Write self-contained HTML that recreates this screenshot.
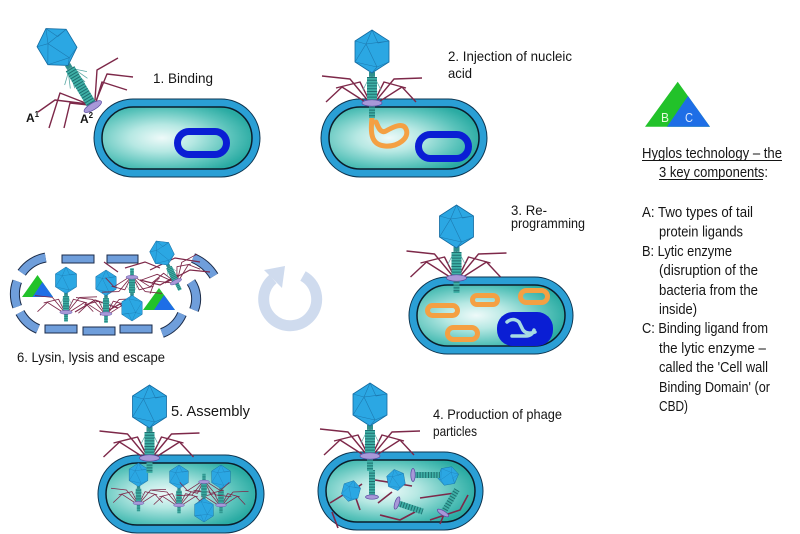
<!DOCTYPE html>
<html><head><meta charset="utf-8"><style>
html,body{margin:0;padding:0;background:#fff;}
svg{display:block;}
text{font-family:"Liberation Sans",sans-serif;fill:#151515;}
</style></head><body>
<svg width="800" height="534" viewBox="0 0 800 534" xmlns="http://www.w3.org/2000/svg" xmlns:xlink="http://www.w3.org/1999/xlink">
<defs>
 <radialGradient id="cy" cx=".4" cy=".5" r=".62">
  <stop offset="0" stop-color="#eefaf9"/>
  <stop offset=".35" stop-color="#b6e8e3"/>
  <stop offset=".75" stop-color="#5ac3bb"/>
  <stop offset="1" stop-color="#2aaba3"/>
 </radialGradient>
 <g id="head">
  <polygon points="0,0 17,11 17,32 0,43 -17,32 -17,11" fill="#2ba7e3" stroke="#136aa0" stroke-width=".8"/>
  <path d="M0,0 L-6,14 L17,11 M-17,11 L-6,14 L-17,32 M-6,14 L5,37 L17,32 M5,37 L0,43 M5,37 L-17,32 M0,0 L6,13 L17,11" fill="none" stroke="#1a6fa5" stroke-width=".6" opacity=".8"/>
 </g>
 <g id="fib" fill="none" stroke="#7d2849" stroke-width="1.4" stroke-linejoin="round">
  <path d="M-3,72 L-22,49 L-50,46"/>
  <path d="M-5,73 L-30,57 L-46,72"/>
  <path d="M-2,72 L-12,52 L-36,58"/>
  <path d="M3,72 L22,49 L50,48"/>
  <path d="M5,73 L30,57 L44,72"/>
  <path d="M2,72 L12,52 L34,58"/>
 </g>
 <g id="tail">
  <rect x="-3" y="42" width="6" height="6" fill="#2f8f8c"/>
  <path d="M-2,46 L-9,60 M2,46 L9,60 M-1,46 L-5,62 M1,46 L5,62" stroke="#5aa9a5" stroke-width=".7" fill="none"/>
  <rect x="-5" y="47" width="10" height="25" fill="#3fb0a6"/>
  <line x1="0" y1="47" x2="0" y2="72" stroke="#1e6f70" stroke-width="10" stroke-dasharray="1 1.8"/>
  <rect x="-3" y="74" width="6" height="14" fill="#3fb0a6"/>
  <line x1="0" y1="74" x2="0" y2="88" stroke="#1e6f70" stroke-width="6" stroke-dasharray="1 1.8"/>
  <ellipse cx="0" cy="73" rx="10" ry="3.2" fill="#a898d8" stroke="#5b4aa0" stroke-width=".7"/>
 </g>
 <g id="phage"><use href="#fib"/><use href="#tail"/><use href="#head"/></g>
 <g id="tp">
  <rect x="-3" y="1" width="6" height="26" fill="#3fb0a6"/>
  <line x1="0" y1="1" x2="0" y2="27" stroke="#1e6f70" stroke-width="6" stroke-dasharray="1 1.8"/>
  <ellipse cx="0" cy="0" rx="6.5" ry="2.2" fill="#a898d8" stroke="#5b4aa0" stroke-width=".7"/>
 </g>
</defs>

<!-- ===== Section 1 ===== -->
<rect x="94" y="99" width="166" height="78" rx="39" fill="#2a9fd5" stroke="#0d3550" stroke-width="1"/>
<rect x="102" y="107" width="150" height="62" rx="31" fill="url(#cy)" stroke="#0b1d2a" stroke-width="1.5"/>
<rect x="177.5" y="131.5" width="49" height="23" rx="11.5" fill="none" stroke="#0a1ed4" stroke-width="7"/>
<g fill="none" stroke="#7d2849" stroke-width="1.4" stroke-linejoin="round">
 <path d="M88,104 L60,93 L49,128"/>
 <path d="M89,105 L70,103 L64,128"/>
 <path d="M88,104 L55,100 L38,112"/>
 <path d="M95,100 L97,70 L118,58"/>
 <path d="M96,101 L107,74 L133,77"/>
 <path d="M96,102 L102,82 L127,90"/>
</g>
<g transform="translate(57,47) rotate(-31) translate(0,-21.5)">
 <rect x="-3" y="42" width="6" height="6" fill="#2f8f8c"/>
 <path d="M-2,46 L-10,64 M2,46 L10,64 M-1,46 L-6,66 M1,46 L6,66 M0,46 L-13,58 M0,46 L13,58" stroke="#5aa9a5" stroke-width=".8" fill="none"/>
 <rect x="-5" y="47" width="10" height="43" fill="#3fb0a6"/>
 <line x1="0" y1="47" x2="0" y2="90" stroke="#1e6f70" stroke-width="10" stroke-dasharray="1 1.8"/>
 <ellipse cx="0" cy="91" rx="10" ry="3.4" fill="#a898d8" stroke="#5b4aa0" stroke-width=".7"/>
 <use href="#head"/>
</g>
<text x="26" y="122" font-size="12" font-weight="bold">A<tspan dy="-5" font-size="8">1</tspan></text>
<text x="80" y="123" font-size="12" font-weight="bold">A<tspan dy="-5" font-size="8">2</tspan></text>
<text x="153" y="83" font-size="14" textLength="60" lengthAdjust="spacingAndGlyphs">1.  Binding</text>

<!-- ===== Section 2 ===== -->
<rect x="321" y="99" width="166" height="78" rx="39" fill="#2a9fd5" stroke="#0d3550" stroke-width="1"/>
<rect x="329" y="107" width="150" height="62" rx="31" fill="url(#cy)" stroke="#0b1d2a" stroke-width="1.5"/>
<rect x="418.5" y="134.5" width="50" height="24" rx="12" fill="none" stroke="#0a1ed4" stroke-width="7"/>
<path d="M372,118 C370,135 372,145 385,146 C398,147 410,138 406,129 C403,122 393,127 386,131 C380,134 378,126 376,122" fill="none" stroke="#f4a043" stroke-width="5" stroke-linecap="round"/>
<use href="#phage" transform="translate(372,30)"/>
<text x="448" y="61" font-size="14" textLength="124" lengthAdjust="spacingAndGlyphs">2. Injection of nucleic</text>
<text x="448" y="78" font-size="14" textLength="24" lengthAdjust="spacingAndGlyphs">acid</text>

<!-- ===== Section 3 ===== -->
<rect x="409" y="277" width="164" height="77" rx="38.5" fill="#2a9fd5" stroke="#0d3550" stroke-width="1"/>
<rect x="417" y="285" width="148" height="61" rx="30.5" fill="url(#cy)" stroke="#0b1d2a" stroke-width="1.5"/>
<g fill="none" stroke="#f4a043" stroke-width="5">
 <rect x="427.5" y="305.5" width="30" height="10" rx="5"/>
 <rect x="472.5" y="295.5" width="25" height="9" rx="4.5"/>
 <rect x="520.5" y="290.5" width="27" height="12" rx="6"/>
 <rect x="447.5" y="327.5" width="30" height="12" rx="6"/>
</g>
<rect x="497" y="312" width="56" height="34" rx="16" fill="#0a1ed4"/>
<path d="M507,322 q6,-5 12,0 l4,8 q4,5 12,2 M512,336 h14 q6,0 8,-6" fill="none" stroke="#a7dbe3" stroke-width="3.5" stroke-linecap="round"/>
<use href="#phage" transform="translate(456.5,205)"/>
<text x="511" y="215" font-size="14" textLength="36" lengthAdjust="spacingAndGlyphs">3. Re-</text>
<text x="511" y="228" font-size="14" textLength="74" lengthAdjust="spacingAndGlyphs">programming</text>

<!-- ===== Circular arrow ===== -->
<path d="M273,279 A26.5,26.5 0 1 0 303,276" fill="none" stroke="#cfdbee" stroke-width="11"/>
<polygon points="264,270 285,266 282,288" fill="#cfdbee"/>

<!-- ===== Section 6 ===== -->
<g fill="none" stroke-width="10" stroke="#1b2b48">
 <path d="M45.6,257.6 A37,37 0 0 0 21.7,272.8"/>
 <path d="M17.2,281.3 A37,37 0 0 0 17.2,306.7"/>
 <path d="M20,312.5 A37,37 0 0 0 38,329"/>
 <path d="M193,258 A45,45 0 0 1 214,276"/>
 <path d="M191,282 A30,30 0 0 1 194,310"/>
 <path d="M182,314 A35,35 0 0 1 162,333"/>
</g>
<g fill="none" stroke-width="8" stroke="#6f9edb">
 <path d="M45.6,257.6 A37,37 0 0 0 21.7,272.8"/>
 <path d="M17.2,281.3 A37,37 0 0 0 17.2,306.7"/>
 <path d="M20,312.5 A37,37 0 0 0 38,329"/>
 <path d="M193,258 A45,45 0 0 1 214,276"/>
 <path d="M191,282 A30,30 0 0 1 194,310"/>
 <path d="M182,314 A35,35 0 0 1 162,333"/>
</g>
<g fill="#6f9edb" stroke="#1b2b48" stroke-width="1">
 <rect x="62" y="255" width="32" height="8"/>
 <rect x="107" y="255" width="31" height="8"/>
 <rect x="45" y="325" width="32" height="8"/>
 <rect x="83" y="327" width="32" height="8"/>
 <rect x="120" y="325" width="32" height="8"/>
</g>
<polygon points="37.5,275 22,297 53,297" fill="#22c22a"/>
<polygon points="42.4,282 32.5,297 53,297" fill="#1e6ee6"/>
<polygon points="159,288 143,310 175,310" fill="#22c22a"/>
<polygon points="164,295 154,310 175,310" fill="#1e6ee6"/>
<g fill="none" stroke="#7d2849" stroke-width="1.2">
 <path d="M118,272 L104,262"/>
 <path d="M125,268 L145,262 L160,268"/>
 <path d="M140,280 L160,285 L178,275"/>
 <path d="M150,270 L175,258 L200,262"/>
 <path d="M165,283 L190,270 L210,272"/>
 <path d="M75,312 L95,300 L118,308"/>
 <path d="M100,315 L120,304 L135,318"/>
</g>
<use href="#phage" transform="translate(66,267) scale(.62)"/>
<use href="#phage" transform="translate(106,270) scale(.6)"/>
<use href="#phage" transform="translate(132,321) rotate(180) scale(.6)"/>
<use href="#phage" transform="translate(162,253) rotate(-26) scale(.62) translate(0,-21.5)"/>
<text x="17" y="362" font-size="14" textLength="148" lengthAdjust="spacingAndGlyphs">6.  Lysin, lysis and escape</text>

<!-- ===== Section 5 ===== -->
<rect x="98" y="455" width="166" height="78" rx="39" fill="#2a9fd5" stroke="#0d3550" stroke-width="1"/>
<rect x="106" y="463" width="150" height="62" rx="31" fill="url(#cy)" stroke="#0b1d2a" stroke-width="1.5"/>
<use href="#phage" transform="translate(138.5,463) scale(.55)"/>
<use href="#phage" transform="translate(179,465) scale(.55)"/>
<use href="#phage" transform="translate(221,465) scale(.55)"/>
<use href="#phage" transform="translate(204,522) rotate(180) scale(.55)"/>
<use href="#phage" transform="translate(149.5,385)"/>
<text x="171" y="416" font-size="15" textLength="79" lengthAdjust="spacingAndGlyphs">5.  Assembly</text>

<!-- ===== Section 4 ===== -->
<rect x="318" y="452" width="165" height="78" rx="39" fill="#2a9fd5" stroke="#0d3550" stroke-width="1"/>
<rect x="326" y="460" width="149" height="62" rx="31" fill="url(#cy)" stroke="#0b1d2a" stroke-width="1.5"/>
<g fill="none" stroke="#7d2849" stroke-width="1.6">
 <path d="M330,503 L343,495"/>
 <path d="M344,497 L362,484"/>
 <path d="M332,512 L338,528"/>
 <path d="M375,480 L412,486"/>
 <path d="M378,503 L392,492"/>
 <path d="M352,487 L360,510"/>
 <path d="M420,498 L455,493"/>
 <path d="M430,520 L460,510 L468,495"/>
 <path d="M380,515 L400,520 L415,512"/>
 <path d="M450,500 L440,524"/>
</g>
<use href="#head" transform="translate(351,491) rotate(15) scale(.5) translate(0,-21.5)"/>
<use href="#head" transform="translate(396,480) rotate(-10) scale(.5) translate(0,-21.5)"/>
<use href="#head" transform="translate(448,476) rotate(80) scale(.5) translate(0,-21.5)"/>
<use href="#tp" transform="translate(372,497) rotate(180)"/>
<use href="#tp" transform="translate(413,475) rotate(-90)"/>
<use href="#tp" transform="translate(397,503) rotate(-71.6)"/>
<use href="#tp" transform="translate(443,513) rotate(-149)"/>
<use href="#phage" transform="translate(370,383)"/>
<text x="433" y="419" font-size="14" textLength="129" lengthAdjust="spacingAndGlyphs">4. Production of phage</text>
<text x="433" y="436" font-size="14" textLength="44" lengthAdjust="spacingAndGlyphs">particles</text>

<!-- ===== Legend ===== -->
<polygon points="677.7,81.7 645,126.7 710,126.7" fill="#22c22a"/>
<polygon points="688,96 667,126.7 710,126.7" fill="#1e6ee6"/>
<text x="661" y="122" font-size="13" textLength="8" lengthAdjust="spacingAndGlyphs" style="fill:#e6fbdc">B</text>
<text x="685" y="122" font-size="13" textLength="8" lengthAdjust="spacingAndGlyphs" style="fill:#dbe9ff">C</text>

<text x="642" y="158" font-size="14.5" textLength="140" lengthAdjust="spacingAndGlyphs">Hyglos technology – the</text>
<line x1="642" y1="160.5" x2="782" y2="160.5" stroke="#151515" stroke-width="1"/>
<text x="659" y="177" font-size="14.5" textLength="109" lengthAdjust="spacingAndGlyphs">3 key components:</text>
<line x1="659" y1="179.5" x2="763" y2="179.5" stroke="#151515" stroke-width="1"/>

<text x="642" y="217" font-size="14.5" textLength="111" lengthAdjust="spacingAndGlyphs">A: Two types of tail</text>
<text x="659" y="236.5" font-size="14.5" textLength="84" lengthAdjust="spacingAndGlyphs">protein ligands</text>
<text x="642" y="256" font-size="14.5" textLength="90" lengthAdjust="spacingAndGlyphs">B: Lytic enzyme</text>
<text x="659" y="275" font-size="14.5" textLength="99" lengthAdjust="spacingAndGlyphs">(disruption of the</text>
<text x="659" y="295" font-size="14.5" textLength="99" lengthAdjust="spacingAndGlyphs">bacteria from the</text>
<text x="659" y="314" font-size="14.5" textLength="38" lengthAdjust="spacingAndGlyphs">inside)</text>
<text x="642" y="333" font-size="14.5" textLength="126" lengthAdjust="spacingAndGlyphs">C: Binding ligand from</text>
<text x="659" y="353" font-size="14.5" textLength="107" lengthAdjust="spacingAndGlyphs">the lytic enzyme –</text>
<text x="659" y="372" font-size="14.5" textLength="109" lengthAdjust="spacingAndGlyphs">called the 'Cell wall</text>
<text x="659" y="392" font-size="14.5" textLength="111" lengthAdjust="spacingAndGlyphs">Binding Domain' (or</text>
<text x="659" y="411" font-size="14.5" textLength="29" lengthAdjust="spacingAndGlyphs">CBD)</text>
</svg>
</body></html>
